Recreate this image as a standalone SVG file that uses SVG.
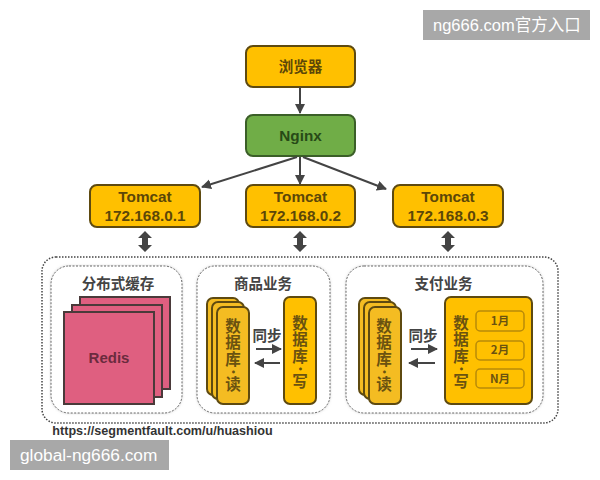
<svg xmlns="http://www.w3.org/2000/svg" width="600" height="480" viewBox="0 0 600 480">
<style>
text{font-family:"Liberation Sans","Noto Sans CJK SC",sans-serif;text-anchor:middle}
.y{fill:#FFC000;stroke:#5E4A10;stroke-width:2}
.s{fill:#F4BC22;stroke:#5E4A10;stroke-width:2}
.g{fill:#70AD47;stroke:#3B5F28;stroke-width:2}
.p{fill:#DF5F80;stroke:#4A3A3A;stroke-width:2}
.t{font-size:15.300px;font-weight:700;fill:#5C4708}
.cjk{font-family:"Noto Sans CJK SC",sans-serif;font-size:14.500px;font-weight:700;fill:#5C4708}
.cap{font-family:"Noto Sans CJK SC",sans-serif;font-size:14.500px;font-weight:700;fill:#444}
.db{font-family:"Noto Sans CJK SC",sans-serif;font-size:15.500px;font-weight:700;fill:#6A5210;writing-mode:vertical-rl;text-anchor:start;letter-spacing:1px}
.dot{font-size:10px;letter-spacing:0;font-weight:900}
.sub{fill:none;stroke:#B98A08;stroke-width:1.500}
.m{font-size:11.500px;font-weight:700;fill:#6A5210;font-family:"Noto Sans CJK SC",sans-serif}
.card{fill:#fff;stroke:#666;stroke-width:1;stroke-dasharray:2 1.500}
.l{stroke:#444;stroke-width:2;fill:none}
.d{fill:#444}
.wm{font-family:"Liberation Sans","Noto Sans CJK SC",sans-serif;font-size:16.500px;fill:#fff;text-anchor:start}
</style>
<defs>
<marker id="a" markerUnits="userSpaceOnUse" markerWidth="11" markerHeight="11" refX="9" refY="5" orient="auto"><path d="M0 0L10 5L0 10z" fill="#444"/></marker>
<path id="dbl" d="M0 -10.500L7 -3.500H3V3.500H7L0 10.500L-7 3.500H-3V-3.500H-7z"/>
<filter id="sh" x="-5%" y="-5%" width="110%" height="110%"><feGaussianBlur stdDeviation="1.500"/></filter>
</defs>
<rect width="600" height="480" fill="#fff"/>

<g id="browser"><rect class="y" x="246" y="46" width="109" height="41" rx="7"/><text class="cjk" x="300.500" y="72">浏览器</text></g>
<g id="nginx"><rect class="g" x="246" y="115" width="109" height="41" rx="7"/><text class="t" x="300.500" y="141" style="fill:#274A17">Nginx</text></g>
<g id="tomcat1"><rect class="y" x="90" y="185" width="110" height="42" rx="7"/><text class="t" x="145" y="202">Tomcat</text><text class="t" x="145" y="221">172.168.0.1</text></g>
<g id="tomcat2"><rect class="y" x="246" y="185" width="109" height="42" rx="7"/><text class="t" x="300.500" y="202">Tomcat</text><text class="t" x="300.500" y="221">172.168.0.2</text></g>
<g id="tomcat3"><rect class="y" x="393" y="185" width="110" height="42" rx="7"/><text class="t" x="448" y="202">Tomcat</text><text class="t" x="448" y="221">172.168.0.3</text></g>

<g id="group-outer"><rect x="42" y="257" width="516" height="166" rx="14" fill="none" stroke="#444" stroke-width="1.500" stroke-dasharray="1.500 1.500"/></g>

<g id="cache">
<rect x="51" y="266" width="131" height="147" rx="18" fill="#ccc" filter="url(#sh)"/>
<rect class="card" x="51" y="266" width="131" height="147" rx="18"/>
<text class="cap" x="118" y="289">分布式缓存</text>
<rect class="p" x="80" y="297" width="90" height="92"/>
<rect class="p" x="72" y="305" width="90" height="92"/>
<rect class="p" x="64" y="312" width="90" height="92"/>
<text x="109" y="363" font-size="15" font-weight="700" fill="#6B2B3E">Redis</text>
</g>

<g id="goods">
<rect x="197" y="266" width="133" height="147" rx="18" fill="#ccc" filter="url(#sh)"/>
<rect class="card" x="197" y="266" width="133" height="147" rx="18"/>
<text class="cap" x="263" y="289">商品业务</text>
<rect class="s" x="207" y="298" width="32" height="97" rx="6"/>
<rect class="s" x="212" y="302" width="32" height="97" rx="6"/>
<rect class="s" x="217" y="307" width="32" height="97" rx="6"/>
<text class="db" x="233" y="318">数据<tspan letter-spacing="0">库</tspan><tspan class="dot">·</tspan>读</text>
<rect class="y" x="284" y="297" width="32" height="107" rx="6"/>
<text class="db" x="300" y="315">数据<tspan letter-spacing="0">库</tspan><tspan class="dot">·</tspan>写</text>
<text class="cap" x="267" y="341">同步</text>
</g>

<g id="pay">
<rect x="346" y="266" width="197" height="147" rx="18" fill="#ccc" filter="url(#sh)"/>
<rect class="card" x="346" y="266" width="197" height="147" rx="18"/>
<text class="cap" x="443.500" y="289">支付业务</text>
<rect class="s" x="359" y="298" width="32" height="97" rx="6"/>
<rect class="s" x="364" y="302" width="32" height="97" rx="6"/>
<rect class="s" x="369" y="307" width="32" height="97" rx="6"/>
<text class="db" x="384" y="318">数据<tspan letter-spacing="0">库</tspan><tspan class="dot">·</tspan>读</text>
<rect class="y" x="445" y="297" width="87" height="107" rx="6"/>
<text class="db" x="461" y="315">数据<tspan letter-spacing="0">库</tspan><tspan class="dot">·</tspan>写</text>
<rect class="sub" x="476" y="311" width="48" height="20" rx="4"/><text class="m" x="500" y="325">1月</text>
<rect class="sub" x="476" y="341" width="48" height="19" rx="4"/><text class="m" x="500" y="354">2月</text>
<rect class="sub" x="476" y="369" width="48" height="19" rx="4"/><text class="m" x="500" y="383">N月</text>
<text class="cap" x="423" y="341">同步</text>
</g>

<g id="connectors">
<path class="l" d="M300 87V113" marker-end="url(#a)"/>
<path class="l" d="M300 157V184" marker-end="url(#a)"/>
<path class="l" d="M297 157L202 187" marker-end="url(#a)"/>
<path class="l" d="M303 157L386 189" marker-end="url(#a)"/>
<use class="d" href="#dbl" x="145" y="241.500"/>
<use class="d" href="#dbl" x="300" y="241.500"/>
<use class="d" href="#dbl" x="448" y="241.500"/>
<path class="l" d="M256 349H281" marker-end="url(#a)"/>
<path class="l" d="M280 363H255" marker-end="url(#a)"/>
<path class="l" d="M411 349H437" marker-end="url(#a)"/>
<path class="l" d="M435 363H409" marker-end="url(#a)"/>
</g>

<text x="162.500" y="435" font-size="12.600" font-weight="700" fill="#333">https://segmentfault.com/u/huashiou</text>

<rect x="423" y="10" width="167" height="30" fill="#A8A8A8"/>
<text class="wm" x="433" y="31">ng666.com官方入口</text>
<rect x="10" y="440" width="159" height="30" fill="#A8A8A8"/>
<text class="wm" x="20" y="461" style="font-size:17.300px">global-ng666.com</text>
</svg>
